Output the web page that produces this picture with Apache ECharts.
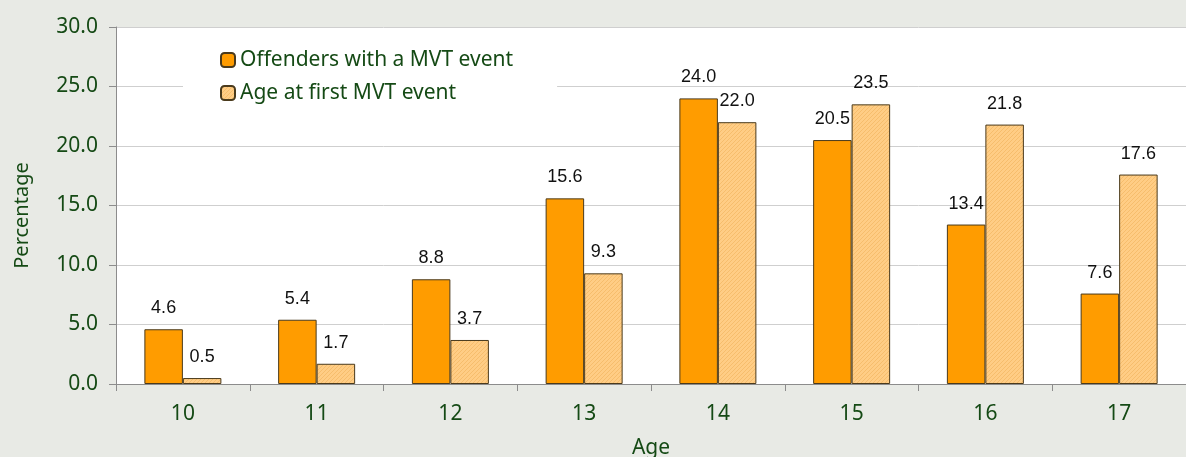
<!DOCTYPE html>
<html>
<head>
<meta charset="utf-8">
<script src="https://cdn.jsdelivr.net/npm/echarts@6/dist/echarts.min.js"></script>
<style>
  html, body { margin: 0; padding: 0; background: #e8eae5; }
  #chart { width: 1186px; height: 457px; }
</style>
</head>
<body>
<div id="chart"></div>
<script>
// data
const ages = ['10', '11', '12', '13', '14', '15', '16', '17'];
const offenders = [4.6, 5.4, 8.8, 15.6, 24.0, 20.5, 13.4, 7.6];
const firstEvent = [0.5, 1.7, 3.7, 9.3, 22.0, 23.5, 21.8, 17.6];
const seriesNames = ['Offenders with a MVT event', 'Age at first MVT event'];

const green = '#154a15';
const font = '"Noto Sans", "Open Sans", sans-serif';

// small hatch tile for the lighter bars
function hatch() {
  const c = document.createElement('canvas');
  c.width = 4; c.height = 4;
  const g = c.getContext('2d');
  g.fillStyle = '#ffcd85';
  g.fillRect(0, 0, 4, 4);
  g.fillStyle = '#f6bd6c';
  g.fillRect(0, 3, 1, 1);
  g.fillRect(1, 2, 1, 1);
  g.fillRect(2, 1, 1, 1);
  g.fillRect(3, 0, 1, 1);
  return c;
}

const labelStyle = {
  show: true,
  position: 'top',
  distance: 12,
  color: '#111',
  fontFamily: '"Liberation Sans", Arial, sans-serif',
  fontSize: 18,
  formatter: p => p.value.toFixed(1)
};

const chart = echarts.init(document.getElementById('chart'));
chart.setOption({
  backgroundColor: '#e8eae5',
  animation: false,
  grid: {
    left: 116, top: 27, right: 0, bottom: 73,
    outerBoundsMode: 'none', containLabel: false,
    show: true, backgroundColor: '#fff', borderWidth: 0
  },
  legend: {
    orient: 'vertical',
    left: 183,
    top: 40,
    padding: [8, 44, 8, 37],
    backgroundColor: '#fff',
    itemWidth: 14,
    itemHeight: 14,
    itemGap: 9,
    textStyle: { color: green, fontSize: 21, fontFamily: font, lineHeight: 24 },
    data: seriesNames
  },
  xAxis: {
    type: 'category',
    data: ages,
    name: 'Age',
    nameLocation: 'middle',
    nameGap: 54,
    nameTextStyle: { color: green, fontSize: 21, fontFamily: font },
    axisLine: { lineStyle: { color: '#8c8c8c' } },
    axisTick: { show: true, length: 7, lineStyle: { color: '#8c8c8c' } },
    axisLabel: { color: green, fontSize: 21, fontFamily: font, margin: 20 }
  },
  yAxis: {
    type: 'value',
    min: 0,
    max: 30,
    interval: 5,
    name: 'Percentage',
    nameLocation: 'middle',
    nameGap: 84,
    nameTextStyle: { color: green, fontSize: 20, fontFamily: font, padding: [0, 20, 0, 0] },
    axisLine: { show: true, lineStyle: { color: '#8c8c8c' } },
    axisTick: { show: true, length: 7, lineStyle: { color: '#8c8c8c' } },
    axisLabel: { color: green, fontSize: 21, fontFamily: font, margin: 18, formatter: v => v.toFixed(1) },
    splitLine: { lineStyle: { color: '#cfcfcf' } }
  },
  series: [
    {
      name: seriesNames[0],
      type: 'bar',
      data: offenders,
      barWidth: 38.5,
      barGap: '0%',
      itemStyle: { color: '#ff9c00', borderColor: '#4a3a1c', borderWidth: 1 },
      label: labelStyle
    },
    {
      name: seriesNames[1],
      type: 'bar',
      data: firstEvent,
      barWidth: 38.5,
      barGap: '0%',
      itemStyle: { color: { image: hatch(), repeat: 'repeat' }, borderColor: '#4a3a1c', borderWidth: 1 },
      label: labelStyle
    }
  ]
});
</script>
</body>
</html>
